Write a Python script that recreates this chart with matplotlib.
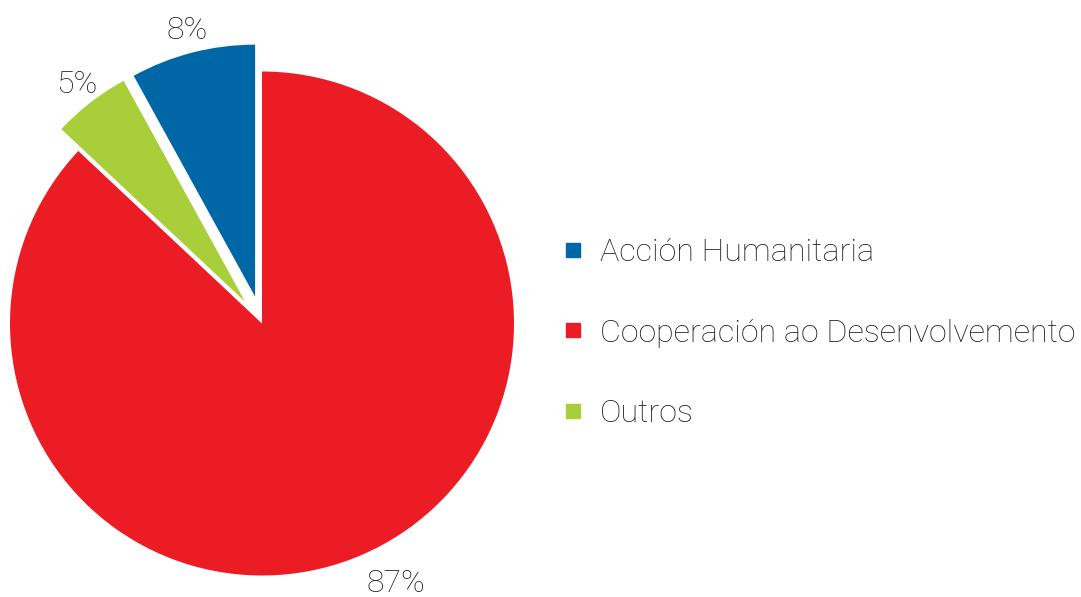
import numpy as np
import matplotlib.pyplot as plt
from matplotlib.lines import Line2D

# ---------------- DATA ----------------
categories = ["Acción Humanitaria", "Cooperación ao Desenvolvemento", "Outros"]
shares     = [8, 87, 5]
colors     = ["#0067A6", "#EC1C24", "#A8CE3A"]

# drawing order of the wedges (clockwise from 12 o'clock): red, green, blue
pie_order = [1, 2, 0]
explode_by_cat = [0.11, 0.0, 0.11]

TEXT_COLOR = "#231F20"
plt.rcParams['font.family'] = ['Roboto', 'Liberation Sans', 'DejaVu Sans']

W, H = 1081, 597
fig = plt.figure(figsize=(W / 100, H / 100), dpi=100)
ax = fig.add_axes([0, 0, 1, 1])

# pie centre / radius in pixels -> axis limits (1 data unit = R px)
CX, CY, R = 262.0, 323.5, 252.0

wedges, texts = ax.pie(
    [shares[i] for i in pie_order],
    colors=[colors[i] for i in pie_order],
    explode=[explode_by_cat[i] for i in pie_order],
    labels=[f"{shares[i]}%" for i in pie_order],
    labeldistance=1.09,
    startangle=90, counterclock=False, radius=1.0,
    wedgeprops=dict(linewidth=0),
    textprops=dict(fontsize=23, color=TEXT_COLOR, fontweight='light'),
    frame=True,
)
ax.set_xlim(-CX / R, (W - CX) / R)
ax.set_ylim(-(H - CY) / R, CY / R)
ax.set_aspect('auto')
ax.axis('off')

for t in texts:
    t.set_ha('center'); t.set_va('center')
# the big slice's label sits a bit off its bisector, further out
ang = np.deg2rad(-62.7)
texts[0].set_position((1.16 * np.cos(ang), 1.16 * np.sin(ang)))

handles = [Line2D([], [], marker='s', ls='', color=c, markersize=10) for c in colors]
leg = fig.legend(handles, categories, loc='center left',
                 bbox_to_anchor=(549 / W, 1 - 333 / H),
                 frameon=False, fontsize=23.2, labelspacing=1.6,
                 handlelength=0.7, handletextpad=0.48, borderaxespad=0)
for t in leg.get_texts():
    t.set_color(TEXT_COLOR); t.set_fontweight('light')

fig.savefig("out.png", dpi=100)
